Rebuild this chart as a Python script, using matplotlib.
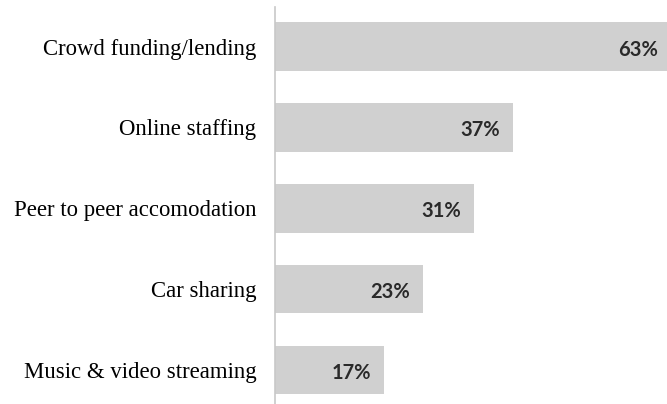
from matplotlib import pyplot as plt

# data
categories = ["Crowd funding/lending", "Online staffing", "Peer to peer accomodation",
              "Car sharing", "Music & video streaming"]
values = [63, 37, 31, 23, 17]
value_labels = ["63%", "37%", "31%", "23%", "17%"]

fig = plt.figure(figsize=(6.67, 4.04), dpi=100)
# axes left edge sits where the vertical line is, runs to the right edge of the picture
ax = fig.add_axes([275 / 667, 0, 1 - 275 / 667, 1 - 7 / 404])

pos = range(len(categories))
ax.barh(pos, values, height=0.6, color="#d0d0d0")

xmax = 61.06
ax.set_xlim(0, xmax)
ax.set_ylim(4.42, -0.49)

for i, (v, lab) in enumerate(zip(values, value_labels)):
    # bar running off the picture: keep its label inside
    x, off = (v, -13) if v < xmax else (xmax, -9)
    ax.annotate(lab, xy=(x, i), xytext=(off, -3),
                textcoords="offset pixels", ha="right", va="center",
                fontsize=14.5, family="Lato", weight="bold", color="#2a2a2a",
                annotation_clip=False)

ax.set_yticks(list(pos))
ax.set_yticklabels(categories, family="Liberation Serif", fontsize=16.4, color="#000000")
ax.tick_params(axis="y", length=0, pad=13.5)
ax.set_xticks([])

for s in ["top", "right", "bottom"]:
    ax.spines[s].set_visible(False)
ax.spines["left"].set_color("#c8c8c8")
ax.spines["left"].set_linewidth(1.2)

plt.savefig("out.png", dpi=100)
